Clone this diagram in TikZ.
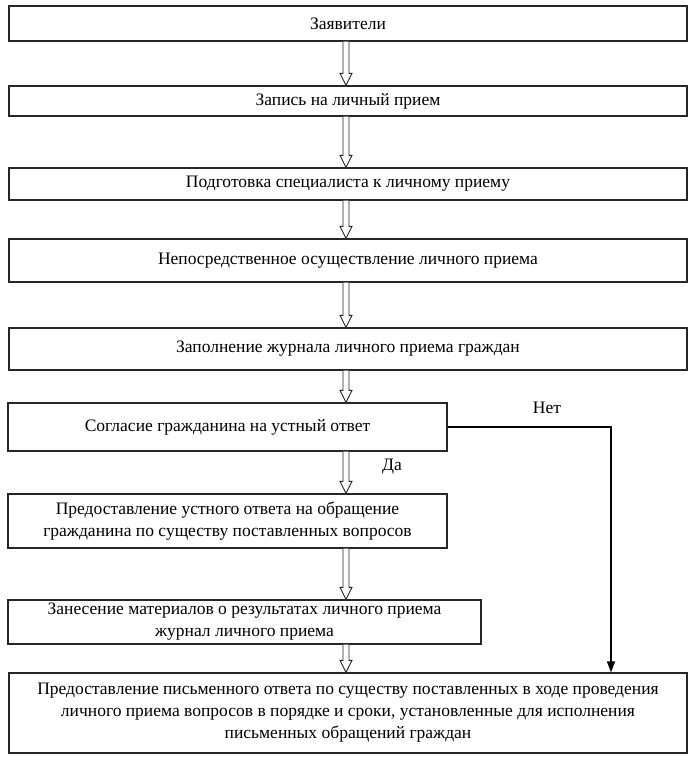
\documentclass[tikz,border=0pt]{standalone}
\usepackage{fontspec}
\setmainfont{Liberation Serif}
\usetikzlibrary{calc,arrows.meta}
\tikzset{
  box/.style={draw=black!85, line width=1.2pt, align=center, inner sep=0pt,
    font=\fontsize{17.5}{22}\selectfont},
  hollow/.style={draw=black!85, line width=0.9pt, fill=white, line join=miter},
  nolink/.style={draw=black, line width=1.4pt, -{Triangle[length=11pt,width=8pt]}},
  lbl/.style={font=\fontsize{17.5}{19}\selectfont, inner sep=0pt}
}
\newcommand{\harrow}[2]{%
  \draw[hollow] let \p1=(#1.south -| arrx), \p2=(#2.north -| arrx) in
    (\x1-3pt,\y1) -- (\x1-3pt,\y2+12pt) -- (\x1-6pt,\y2+12pt) -- (\x1,\y2)
    -- (\x1+6pt,\y2+12pt) -- (\x1+3pt,\y2+12pt) -- (\x1+3pt,\y1);}
\begin{document}
\begin{tikzpicture}[x=1pt,y=-1pt]
\useasboundingbox (0,0) rectangle (700,759);
\coordinate (arrx) at (346,0);
\node[box, minimum width=678pt, minimum height=35pt] (b1) at (348,23.5) {Заявители};
\node[box, minimum width=678pt, minimum height=30pt] (b2) at (348,101) {Запись на личный прием};
\node[box, minimum width=678pt, minimum height=32pt] (b3) at (348,184) {Подготовка специалиста к личному приему};
\node[box, minimum width=678pt, minimum height=43pt] (b4) at (348,260.5) {Непосредственное осуществление личного приема};
\node[box, minimum width=678pt, minimum height=42pt] (b5) at (348,349) {Заполнение журнала личного приема граждан};
\node[box, minimum width=439pt, minimum height=48pt] (b6) at (227.5,427) {Согласие гражданина на устный ответ};
\node[box, minimum width=439pt, minimum height=54pt] (b7) at (227.5,521) {Предоставление устного ответа на обращение\\гражданина по существу поставленных вопросов};
\node[box, minimum width=473pt, minimum height=44pt] (b8) at (244.5,622) {Занесение материалов о результатах личного приема\\журнал личного приема};
\node[box, minimum width=678pt, minimum height=80pt] (b9) at (348,713) {Предоставление письменного ответа по существу поставленных в ходе проведения\\личного приема вопросов в порядке и сроки, установленные для исполнения\\письменных обращений граждан};
\harrow{b1}{b2}
\harrow{b2}{b3}
\harrow{b3}{b4}
\harrow{b4}{b5}
\harrow{b5}{b6}
\harrow{b6}{b7}
\harrow{b7}{b8}
\harrow{b8}{b9}
\coordinate (turn) at (611,427);
\draw[nolink] (b6.east) -- (turn) -- (b9.north -| turn);
\node[lbl] (no) at (547,408) {Нет};
\node[lbl] (yes) at (392,467) {Да};
\end{tikzpicture}
\end{document}
